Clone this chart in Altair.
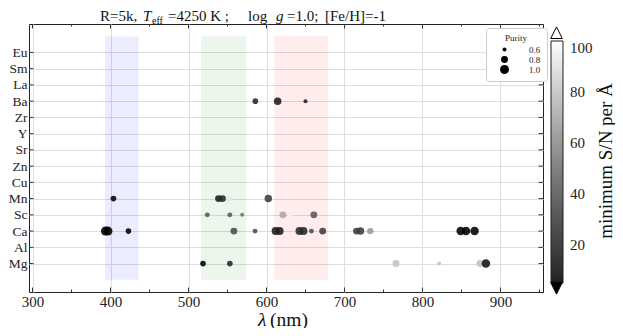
import altair as alt
import pandas as pd

# ---------------- data ----------------
elements = ["Mg", "Al", "Ca", "Sc", "Mn", "Cu", "Zn", "Sr", "Y", "Zr", "Ba", "La", "Sm", "Eu"]

line_element = (["Ba"] * 3 + ["Mn"] * 5 + ["Sc"] * 6 + ["Ca"] * 17 + ["Mg"] * 6)
line_wave = [585.7, 614.3, 650.0,
             403.8, 538.5, 543.6, 551.8, 602.3,
             524.1, 553.0, 568.8, 621.0, 630.4, 660.7,
             393.4, 396.8, 423.0, 558.2, 585.3, 611.7, 616.8, 642.3, 647.4, 657.6,
             672.0, 715.4, 720.5, 733.0, 849.0, 855.8, 866.8,
             518.6, 553.0, 766.0, 821.3, 873.6, 881.3]
line_snr = [20, 15, 15,
            5, 15, 20, 92, 30,
            40, 40, 50, 70, 95, 40,
            5, 5, 5, 35, 35, 15, 15, 20, 20, 35,
            30, 30, 30, 65, 5, 5, 5,
            5, 20, 80, 80, 80, 10]
line_purity = [0.7, 0.85, 0.6,
               0.7, 0.8, 0.8, 0.75, 0.85,
               0.65, 0.65, 0.6, 0.8, 0.7, 0.8,
               1.0, 1.0, 0.7, 0.8, 0.65, 0.9, 0.9, 0.9, 0.9, 0.65,
               0.8, 0.8, 0.85, 0.75, 0.95, 0.95, 0.95,
               0.7, 0.7, 0.8, 0.6, 0.8, 0.95]

band_start = [393, 516, 610]
band_end = [436, 574, 679]
band_fill = ["blue", "green", "red"]

x_major = [300, 400, 500, 600, 700, 800, 900]
x_minor = [350, 450, 550, 650, 750, 850, 950]
purity_values = [0.6, 0.8, 1]
cbar_values = [20, 40, 60, 80, 100]

# ---------------- frames ----------------
pts = pd.DataFrame({"element": line_element, "wave": line_wave,
                    "snr": line_snr, "purity": line_purity})
pts["idx"] = [elements.index(e) for e in pts["element"]]
bands = pd.DataFrame({"start": band_start, "end": band_end, "fill": band_fill})
xmaj = pd.DataFrame({"t": x_major})
xmin = pd.DataFrame({"t": x_minor})
ycat = pd.DataFrame({"idx": list(range(len(elements)))})

W, H = 514, 268
SERIF = "Liberation Serif"
xscale = alt.Scale(domain=[295.5, 954.5], nice=False, zero=False)
yscale = alt.Scale(domain=[-1.75, 14.75], nice=False, zero=False)
label_expr = "[" + ",".join("'%s'" % e for e in elements) + "][datum.value]"

x_axis = alt.Axis(values=x_major, title=None, grid=True, tickSize=0, labelFontSize=15,
                  domain=False, labelPadding=2, labelFlush=False, labelOverlap=False)
y_axis = alt.Axis(values=list(range(len(elements))), labelExpr=label_expr,
                  title=None, grid=True, tickSize=0, domain=False, labelPadding=2,
                  labelFontSize=13.5, labelOverlap=False)

bands_layer = alt.Chart(bands).mark_rect(opacity=0.075).encode(
    x=alt.X("start:Q", scale=xscale, axis=x_axis, title=None),
    x2="end:Q",
    y=alt.YDatum(-1, scale=yscale, axis=y_axis, title=None),
    y2=alt.datum(14),
    fill=alt.Fill("fill:N", scale=None),
)

points = alt.Chart(pts).mark_circle(opacity=0.88).encode(
    x=alt.X("wave:Q", scale=xscale, axis=x_axis, title=None),
    y=alt.Y("idx:Q", scale=yscale, axis=y_axis, title=None),
    color=alt.Color("snr:Q",
                    scale=alt.Scale(domain=[5, 100], range=["black", "white"]),
                    legend=alt.Legend(orient="none", legendX=522, legendY=17,
                                      direction="vertical", gradientLength=242,
                                      gradientThickness=12, values=cbar_values,
                                      gradientStrokeColor="black", gradientStrokeWidth=1,
                                      title=None,
                                      labelFont=SERIF, labelFontSize=15,
                                      labelColor="#222", labelBaseline="middle",
                                      labelOffset=7, padding=0)),
    size=alt.Size("purity:Q",
                  scale=alt.Scale(domain=[0.5, 1], range=[0, 80], zero=False),
                  legend=alt.Legend(orient="none", legendX=457, legendY=4,
                                    values=purity_values, title="Purity",
                                    titleFont=SERIF, titleFontSize=9,
                                    titleFontWeight="normal", titleAnchor="middle",
                                    titleColor="#222", titlePadding=2,
                                    labelFont=SERIF, labelFontSize=9, labelColor="#222",
                                    symbolFillColor="black", symbolStrokeColor="black",
                                    symbolOpacity=1, symbolStrokeWidth=0,
                                    symbolOffset=8, labelOffset=20,
                                    rowPadding=0, padding=6,
                                    strokeColor="#cccccc", fillColor="white",
                                    cornerRadius=3)),
)

tick_color = "#333"
xt_bot = alt.Chart(xmaj).mark_rule(color=tick_color).encode(
    x=alt.X("t:Q", scale=xscale, axis=x_axis, title=None), y=alt.value(H), y2=alt.value(H - 4.5))
xt_top = alt.Chart(xmaj).mark_rule(color=tick_color).encode(
    x=alt.X("t:Q", scale=xscale, axis=x_axis, title=None), y=alt.value(0), y2=alt.value(4.5))
xm_bot = alt.Chart(xmin).mark_rule(color=tick_color).encode(
    x=alt.X("t:Q", scale=xscale, axis=x_axis, title=None), y=alt.value(H), y2=alt.value(H - 2.5))
xm_top = alt.Chart(xmin).mark_rule(color=tick_color).encode(
    x=alt.X("t:Q", scale=xscale, axis=x_axis, title=None), y=alt.value(0), y2=alt.value(2.5))
yt_left = alt.Chart(ycat).mark_rule(color=tick_color).encode(
    y=alt.Y("idx:Q", scale=yscale, axis=y_axis, title=None), x=alt.value(0), x2=alt.value(4.5))
yt_right = alt.Chart(ycat).mark_rule(color=tick_color).encode(
    y=alt.Y("idx:Q", scale=yscale, axis=y_axis, title=None), x=alt.value(W), x2=alt.value(W - 4.5))

one = pd.DataFrame({"a": [0]})


def seg(txt, px, py, size=15, style="normal", angle=0, align="left"):
    return alt.Chart(one).mark_text(align=align, baseline="alphabetic", font=SERIF,
                                    fontSize=size, fontStyle=style, color="#111",
                                    angle=angle).encode(
        x=alt.value(px), y=alt.value(py), text=alt.value(txt))


TY = -3.5
title_parts = [
    seg("R=5k,", 71, TY),
    seg("T", 114, TY, style="italic"),
    seg("eff", 123, TY + 3, size=10),
    seg("=4250 K ;", 139, TY),
    seg("log", 219, TY),
    seg("g", 247, TY, style="italic"),
    seg("=1.0;", 258, TY),
    seg("[Fe/H]=-1", 296, TY),
]
xtitle_parts = [
    seg("λ", 229, 301.5, size=19.5, style="italic"),
    seg("(nm)", 241, 301.5, size=19.5),
]
cbar_title = seg("minimum S/N per Å", 583, 137, size=19, angle=270, align="center")

arrow_up = alt.Chart(one).mark_point(shape="M-1,1L0,-1L1,1Z", filled=True, fill="white",
                                     stroke="black", strokeWidth=1, opacity=1,
                                     size=135).encode(x=alt.value(527.5), y=alt.value(8.7))
arrow_dn = alt.Chart(one).mark_point(shape="M-1,-1L0,1L1,-1Z", filled=True, fill="black",
                                     stroke="black", strokeWidth=1, opacity=1,
                                     size=135).encode(x=alt.value(527.5), y=alt.value(264.3))

chart = alt.layer(bands_layer, points, xt_bot, xt_top, xm_bot, xm_top, yt_left, yt_right,
                  arrow_up, arrow_dn, cbar_title, *title_parts, *xtitle_parts).properties(
    width=W, height=H,
    autosize=alt.AutoSizeParams(type="none"),
    padding={"left": 21, "top": 16, "right": 72, "bottom": 36},
).configure_view(stroke="#222", strokeWidth=1).configure_axis(
    gridColor="#dedede", gridWidth=1, labelOverlap=False,
    labelFont=SERIF, labelColor="#222",
).resolve_scale(size="independent")

chart.save("out.html", embed_options={"renderer": "svg", "actions": False})
